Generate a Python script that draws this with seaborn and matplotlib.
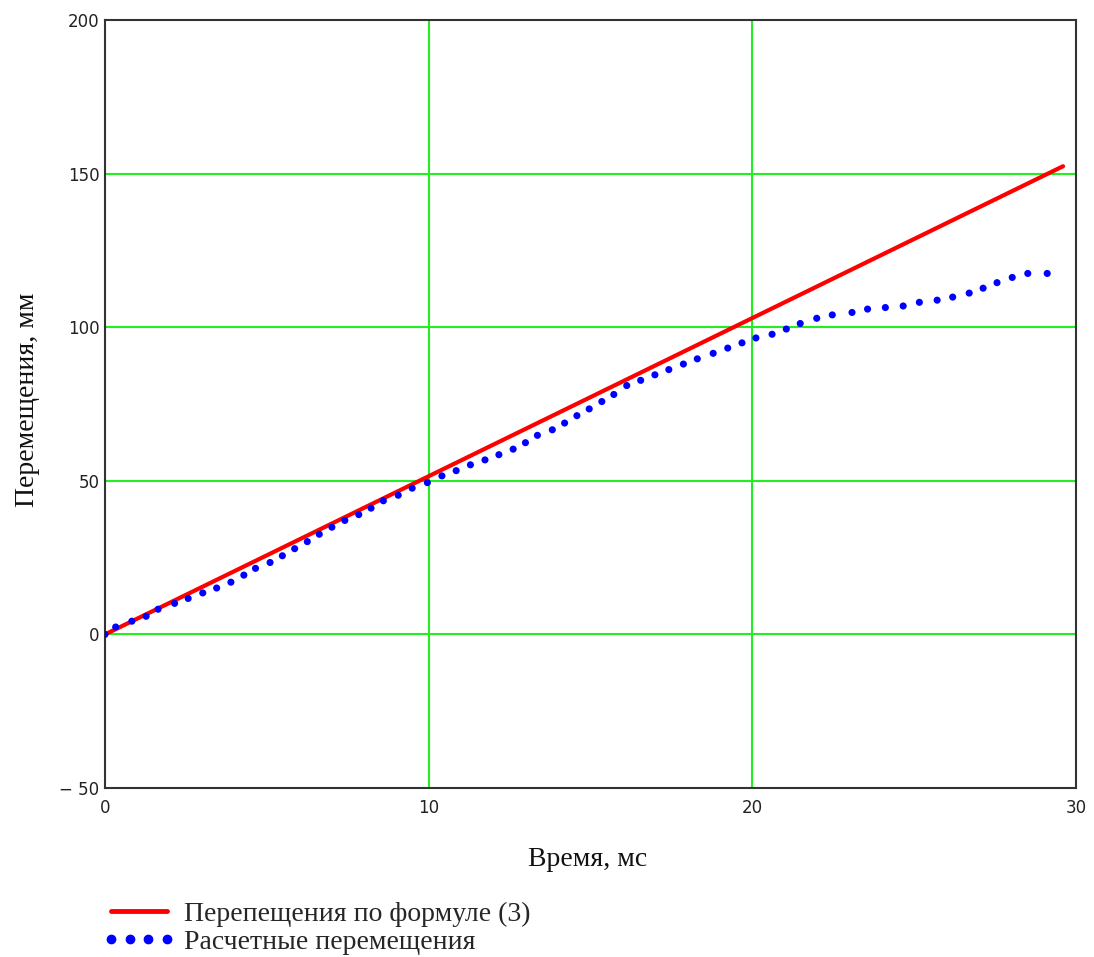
import numpy as np
import pandas as pd
import matplotlib
matplotlib.use("Agg")
import matplotlib.pyplot as plt
import seaborn as sns
from matplotlib.lines import Line2D

# ---- data ----
t_formula = [0.0, 29.6]
y_formula = [0.0, 152.4]

t_calc = [0, 0.33, 0.83, 1.27, 1.64, 2.15, 2.57, 3.02, 3.45, 3.89, 4.29, 4.65, 5.10, 5.48,
          5.86, 6.25, 6.62, 7.01, 7.41, 7.84, 8.22, 8.60, 9.06, 9.49,
          9.96, 10.41, 10.85, 11.29, 11.74, 12.17, 12.61, 12.99, 13.36, 13.82, 14.20, 14.58,
          14.96, 15.35, 15.72, 16.12, 16.55, 16.99, 17.42, 17.87, 18.30, 18.79, 19.24,
          19.68, 20.11, 20.61, 21.05, 21.48, 21.99, 22.47, 23.08, 23.56, 24.11, 24.66, 25.16,
          25.71, 26.19, 26.70, 27.13, 27.56, 28.03, 28.51, 29.11]
y_calc = [0, 2.4, 4.3, 5.9, 8.2, 10.1, 11.7, 13.5, 15.1, 17.0, 19.3, 21.5, 23.4, 25.6,
          27.9, 30.2, 32.6, 34.9, 37.1, 39.0, 41.1, 43.5, 45.3, 47.6,
          49.4, 51.6, 53.3, 55.2, 56.8, 58.5, 60.3, 62.4, 64.8, 66.6, 68.8, 71.2,
          73.4, 75.8, 78.1, 81.0, 82.7, 84.5, 86.2, 88.0, 89.7, 91.5, 93.2,
          94.9, 96.5, 97.7, 99.4, 101.2, 102.9, 104.0, 104.8, 105.9, 106.4, 106.9, 108.1,
          108.8, 109.8, 111.1, 112.7, 114.5, 116.2, 117.5, 117.5]

x_ticks = [0, 10, 20, 30]
x_tick_labels = ["0", "10", "20", "30"]
y_ticks = [-50, 0, 50, 100, 150, 200]
y_tick_labels = ["\u2212 50", "0", "50", "100", "150", "200"]

label_formula = "Перепещения по формуле (3)"
label_calc = "Расчетные перемещения"
x_label = "Время, мс"
y_label = "Перемещения, мм"

# ---- plot ----
sns.set_theme(style="white")
plt.rcParams["font.family"] = ["Liberation Serif", "DejaVu Serif"]

W, H = 1094, 957
fig = plt.figure(figsize=(W / 100, H / 100), dpi=100)
ax = fig.add_axes([105 / W, 1 - 788 / H, (1076 - 105) / W, (788 - 20) / H])

df_f = pd.DataFrame({"t": t_formula, "y": y_formula})
df_c = pd.DataFrame({"t": t_calc, "y": y_calc})

for v in [10, 20]:
    ax.axvline(v, color="#22ee22", lw=1.5, zorder=0)
for v in [0, 50, 100, 150]:
    ax.axhline(v, color="#22ee22", lw=1.5, zorder=0)

sns.lineplot(data=df_f, x="t", y="y", ax=ax, color="#ff0000", lw=3.0, legend=False, zorder=2)
sns.scatterplot(data=df_c, x="t", y="y", ax=ax, color="#0000ff", s=26, edgecolor="none",
                legend=False, zorder=3)

ax.set_xlim(0, 30)
ax.set_ylim(-50, 200)
ax.set_xticks(x_ticks)
ax.set_xticklabels(x_tick_labels)
ax.set_yticks(y_ticks)
ax.set_yticklabels(y_tick_labels)
ax.tick_params(axis="both", length=0, labelsize=12, colors="#222222", pad=4)
for lab in ax.get_xticklabels() + ax.get_yticklabels():
    lab.set_fontfamily("DejaVu Sans")
ax.tick_params(axis="x", pad=8)
ax.set_xlabel("")
ax.set_ylabel("")

for s in ax.spines.values():
    s.set_color("#333333")
    s.set_linewidth(1.5)

fig.text(588 / W, 1 - 860 / H, x_label, fontsize=20, color="#111111", ha="center", va="center")
fig.text(28 / W, 1 - 400 / H, y_label, fontsize=20, color="#111111", ha="center", va="center",
         rotation=90)

handles = [
    Line2D([], [], color="#ff0000", lw=3.5),
    Line2D([], [], color="#0000ff", marker="o", linestyle="none", markersize=6),
]
fig.legend(handles, [label_formula, label_calc], loc="center left",
           bbox_to_anchor=(103 / W, 1 - 928 / H), frameon=False, fontsize=20,
           handlelength=2.6, handletextpad=0.3, labelspacing=0.1, numpoints=4,
           borderaxespad=0, borderpad=0)

fig.savefig("out.png", dpi=100)
